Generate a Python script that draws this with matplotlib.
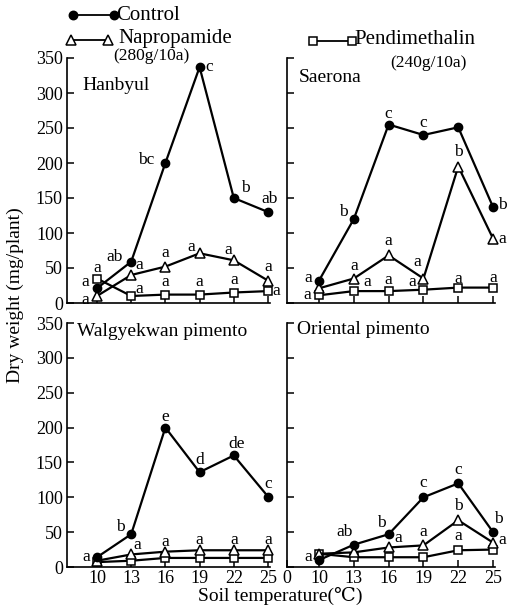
import matplotlib
matplotlib.use("Agg")
import matplotlib.pyplot as plt
from matplotlib.lines import Line2D

plt.rcParams['font.family'] = ['Liberation Serif', 'DejaVu Serif', 'DejaVu Sans']

temps = [10, 13, 16, 19, 22, 25]
panels = ["Hanbyul", "Saerona", "Walgyekwan pimento", "Oriental pimento"]

control = {
    "Hanbyul": [21, 59, 200, 337, 150, 130],
    "Saerona": [32, 120, 255, 240, 251, 137],
    "Walgyekwan pimento": [14, 47, 200, 136, 160, 101],
    "Oriental pimento": [10, 32, 47, 100, 120, 50],
}
napropamide = {
    "Hanbyul": [10, 40, 52, 71, 61, 32],
    "Saerona": [21, 35, 68, 35, 195, 92],
    "Walgyekwan pimento": [9, 18, 22, 24, 24, 24],
    "Oriental pimento": [19, 21, 28, 31, 67, 35],
}
pendimethalin = {
    "Hanbyul": [35, 10, 12, 12, 15, 17],
    "Saerona": [11, 17, 17, 19, 22, 22],
    "Walgyekwan pimento": [7, 9, 13, 13, 13, 13],
    "Oriental pimento": [19, 14, 14, 14, 24, 25],
}

# significance letters (None = no letter printed)
ctrl_letters = {
    "Hanbyul": ["a", "ab", "bc", "c", "b", "ab"],
    "Saerona": ["a", "b", "c", "c", None, "b"],
    "Walgyekwan pimento": ["a", "b", "e", "d", "de", "c"],
    "Oriental pimento": ["a", "ab", "b", "c", "c", "b"],
}
nap_letters = {
    "Hanbyul": ["a", "a", "a", "a", "a", "a"],
    "Saerona": [None, "a", "a", "a", "b", "a"],
    "Walgyekwan pimento": [None, "a", "a", "a", "a", "a"],
    "Oriental pimento": [None, None, "a", "a", "b", "a"],
}
pen_letters = {
    "Hanbyul": ["a", "a", "a", "a", "a", "a"],
    "Saerona": ["a", "a", "a", "a", "a", "a"],
    "Walgyekwan pimento": [None] * 6,
    "Oriental pimento": [None, None, None, None, "a", None],
}

# letter offsets in pixels (dx, dy)
ctrl_off = {
    "Hanbyul": [(-12, 6), (-17, 5), (-19, 3), (10, 0), (12, 10), (2, 13)],
    "Saerona": [(-11, 3), (-10, 7), (0, 10), (0, 12), (0, 0), (9, 2)],
    "Walgyekwan pimento": [(-11, 0), (-11, 7), (0, 11), (0, 12), (3, 11), (0, 13)],
    "Oriental pimento": [(-11, 3), (-9, 13), (-7, 11), (0, 14), (0, 13), (5, 13)],
}
nap_off = {
    "Hanbyul": [(-12, -4), (8, 10), (0, 14), (-8, 6), (-6, 10), (0, 14)],
    "Saerona": [(0, 0), (0, 13), (0, 14), (-6, 16), (0, 14), (9, 0)],
    "Walgyekwan pimento": [(0, 0), (6, 9), (0, 10), (0, 10), (0, 10), (0, 10)],
    "Oriental pimento": [(0, 0), (0, 0), (10, 9), (0, 13), (0, 14), (9, 3)],
}
pen_off = {
    "Hanbyul": [(0, 11), (8, 7), (0, 13), (0, 13), (0, 12), (8, 0)],
    "Saerona": [(-12, 0), (13, 9), (0, 11), (-11, 8), (0, 9), (0, 10)],
    "Walgyekwan pimento": [(0, 0)] * 6,
    "Oriental pimento": [(0, 0), (0, 0), (0, 0), (0, 0), (0, 14), (0, 0)],
}

yticks = [0, 50, 100, 150, 200, 250, 300, 350]

W, H = 507, 616
fig = plt.figure(figsize=(W / 100, H / 100), dpi=100)

def fr(x, y):
    return (x / W, 1 - y / H)

# axes rectangles from pixel geometry
rects = {
    "Hanbyul": (67, 303, 202.7, 245, (7.37, 25.15)),
    "Saerona": (287, 303, 207.8, 245, (7.24, 25.15)),
    "Walgyekwan pimento": (67, 567, 202.7, 244, (7.37, 25.15)),
    "Oriental pimento": (287, 567, 207.8, 244, (7.24, 25.15)),
}
title_pos = {
    "Hanbyul": (82, 85),
    "Saerona": (299, 78),
    "Walgyekwan pimento": (77, 331),
    "Oriental pimento": (297, 329),
}

lw = 1.6
for i, name in enumerate(panels):
    x0, ybot, w, h, xl = rects[name]
    ax = fig.add_axes([x0 / W, (H - ybot) / H, w / W, h / H])
    ax.set_xlim(*xl)
    ax.set_ylim(0, 350)
    for s in ("top", "right"):
        ax.spines[s].set_visible(False)
    for s in ("left", "bottom"):
        ax.spines[s].set_linewidth(1.2)
    ax.tick_params(direction="in", length=5, width=1.1, labelsize=13, pad=3)
    left = (i % 2 == 0)
    bottom = (i >= 2)
    ax.set_yticks(yticks)
    if left:
        ax.set_yticklabels([str(v) for v in yticks])
    else:
        ax.set_yticklabels([])
    if bottom:
        if left:
            ax.set_xticks(temps)
            ax.set_xticklabels([str(t) for t in temps])
        else:
            ax.set_xticks([xl[0]] + temps)
            ax.set_xticklabels(["0"] + [str(t) for t in temps])
        ax.tick_params(axis="x", pad=2)
    else:
        ax.set_xticks(temps)
        ax.set_xticklabels([])

    ax.plot(temps, pendimethalin[name], color="black", lw=lw, marker="s", ms=6,
            mfc="white", mec="black", mew=1.1, clip_on=False, zorder=3)
    ax.plot(temps, napropamide[name], color="black", lw=lw, marker="^", ms=7.5,
            mfc="white", mec="black", mew=1.1, clip_on=False, zorder=4)
    ax.plot(temps, control[name], color="black", lw=lw, marker="o", ms=6,
            mfc="black", mec="black", clip_on=False, zorder=5)

    for vals, lets, offs in ((control[name], ctrl_letters[name], ctrl_off[name]),
                             (napropamide[name], nap_letters[name], nap_off[name]),
                             (pendimethalin[name], pen_letters[name], pen_off[name])):
        for t, v, l, o in zip(temps, vals, lets, offs):
            if l is None:
                continue
            ax.annotate(l, (t, v), xytext=o, textcoords="offset pixels",
                        ha="center", va="center", fontsize=12.5,
                        annotation_clip=False, zorder=6)

    tx, ty = title_pos[name]
    fig.text(*fr(tx, ty), name, ha="left", va="center", fontsize=14)

# legend (drawn in figure space)
def leg(x1, x2, y, marker, mfc, ms):
    fig.add_artist(Line2D([x1 / W, x2 / W], [1 - y / H, 1 - y / H],
                          transform=fig.transFigure, color="black", lw=1.3,
                          marker=marker, ms=ms, mfc=mfc, mec="black", mew=1.1))

leg(73, 114, 15, "o", "black", 6)
fig.text(*fr(116, 15), "Control", ha="left", va="center", fontsize=15)
leg(71, 108, 40, "^", "white", 7)
fig.text(*fr(118, 39), "Napropamide", ha="left", va="center", fontsize=15)
fig.text(*fr(151, 56), "(280g/10a)", ha="center", va="center", fontsize=12.5)
leg(313, 352, 41, "s", "white", 6)
fig.text(*fr(354, 39), "Pendimethalin", ha="left", va="center", fontsize=15)
fig.text(*fr(428, 63), "(240g/10a)", ha="center", va="center", fontsize=12.5)

fig.text(*fr(15, 295), "Dry weight (mg/plant)", rotation=90, ha="center",
         va="center", fontsize=14)
fig.text(*fr(280, 596), "Soil temperature(℃)", ha="center", va="center",
         fontsize=14)

fig.savefig("out.png", dpi=100)
